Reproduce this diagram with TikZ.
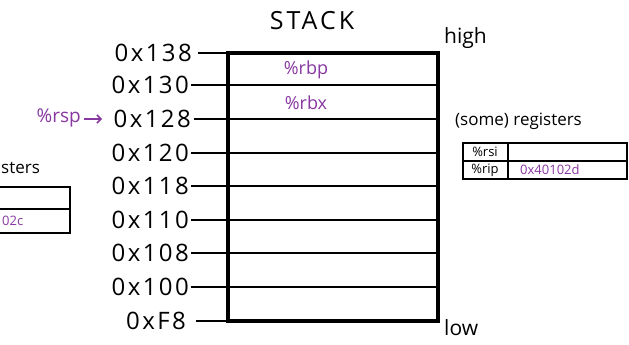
\documentclass[tikz,border=0pt]{standalone}
\usepackage{fontspec}
\setmainfont{Open Sans}
\usetikzlibrary{arrows.meta}
\definecolor{regpurple}{RGB}{135,55,160}
\tikzset{
  addr/.style={anchor=east, inner sep=0pt, font=\fontsize{24}{24}\selectfont\addfontfeature{LetterSpace=10}},
  tick/.style={line width=1.5pt},
  row/.style={line width=2.2pt},
  frame/.style={line width=3.6pt},
  purp/.style={text=regpurple, inner sep=0pt},
  hand/.style={inner sep=0pt},
  tbl/.style={line width=1.4pt}
}
\begin{document}
\begin{tikzpicture}[x=1pt,y=-1pt]
\useasboundingbox (0,0) rectangle (629,345);
\clip (0,0) rectangle (629,345);

% title
\node[hand, font=\fontsize{25}{25}\selectfont\addfontfeature{LetterSpace=12}] (title) at (312,21) {STACK};
\node[hand, anchor=west, font=\fontsize{21}{21}\selectfont] (high) at (444,38) {high};
\node[hand, anchor=west, font=\fontsize{21}{21}\selectfont] (low) at (444,328) {low};

% stack frame
\draw[frame] (228,53) rectangle (438,321);
\foreach \yy in {85,119,153,186,220,253,287}
  \draw[row] (228,\yy) -- (438,\yy);

% addresses
\node[addr] (a138) at (192,53) {0x138};
\node[addr] (a130) at (189,85) {0x130};
\node[addr] (a128) at (191,119) {0x128};
\node[addr] (a120) at (189,153) {0x120};
\node[addr] (a118) at (189,186) {0x118};
\node[addr] (a110) at (189,220) {0x110};
\node[addr] (a108) at (189,253) {0x108};
\node[addr] (a100) at (189,287) {0x100};
\node[addr] (af8) at (186,321) {0xF8};

\draw[tick] (198,53) -- (228,53);
\draw[tick] (191,85) -- (228,85);
\draw[tick] (194,119) -- (228,119);
\draw[tick] (191,153) -- (228,153);
\draw[tick] (191,186) -- (228,186);
\draw[tick] (191,220) -- (228,220);
\draw[tick] (191,253) -- (228,253);
\draw[tick] (191,287) -- (228,287);
\draw[tick] (196,321) -- (228,321);

% stack contents
\node[purp, font=\fontsize{18}{18}\selectfont] (rbp) at (306,70) {\%rbp};
\node[purp, font=\fontsize{18}{18}\selectfont] (rbx) at (306,103) {\%rbx};

% rsp pointer
\node[purp, anchor=east, font=\fontsize{19}{19}\selectfont] (rsp) at (81,118) {\%rsp};
\draw[regpurple, line width=1.5pt, -{Straight Barb[length=4pt,width=8pt]}] (rsp.east) ++(3,1) -- ++(18,0) coordinate (rspend);

% right registers table
\node[hand, anchor=west, font=\fontsize{17}{17}\selectfont] (regs) at (455,121) {(some) registers};
\draw[tbl] (463,143) rectangle (627,179);
\draw[tbl] (463,161) -- (627,161);
\draw[tbl] (508,143) -- (508,179);
\node[hand, font=\fontsize{13}{13}\selectfont] (rsi) at (485,152) {\%rsi};
\node[hand, font=\fontsize{13}{13}\selectfont] (rip) at (485,170) {\%rip};
\node[purp, anchor=west, font=\fontsize{13}{13}\selectfont] (ripv) at (520,170) {0x40102d};

% left (cut-off) registers table
\node[hand, anchor=west, font=\fontsize{17}{17}\selectfont] (lregs) at (1,168) {sters};
\draw[tbl] (-100,187) rectangle (70,233);
\draw[tbl] (-100,209) -- (70,209);
\node[purp, anchor=west, font=\fontsize{13}{13}\selectfont] (lval) at (2,221) {02c};
\end{tikzpicture}
\end{document}
